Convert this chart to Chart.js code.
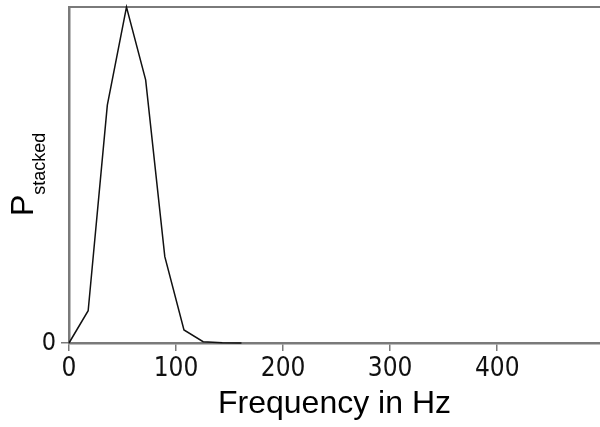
<!DOCTYPE html>
<html>
<head>
<meta charset="utf-8">
<script src="https://cdn.jsdelivr.net/npm/chart.js@4.4.1/dist/chart.umd.min.js"></script>
<style>
  html, body { margin: 0; padding: 0; background: #fff; overflow: hidden; }
  #wrap { width: 600px; height: 427px; }
</style>
</head>
<body>
<div id="wrap"><canvas id="chart"></canvas></div>
<script>
// frequency (Hz) and stacked power (peak = 1)
const frequencies = [0, 17.9, 35.8, 53.7, 71.6, 89.5, 107.4, 125.3, 143.2, 161.1];
const power = [0, 0.096, 0.708, 1.0, 0.783, 0.257, 0.039, 0.004, 0.001, 0];
const xTicks = [0, 100, 200, 300, 400];
const yTicks = [0];

const axisGrey = "#7a7a7a";
const narrow = "'Liberation Sans Narrow', 'DejaVu Sans Condensed', sans-serif";
const sans = "'Liberation Sans', Arial, sans-serif";

const frameAndLabelPlugin = {
  id: "frameAndLabelPlugin",
  beforeDatasetsDraw: (chart) => {
    const { ctx, chartArea } = chart;
    // top border of the plot frame
    ctx.save();
    ctx.beginPath();
    ctx.moveTo(chartArea.left - 1, chartArea.top);
    ctx.lineTo(chart.width, chartArea.top);
    ctx.lineWidth = 2;
    ctx.strokeStyle = axisGrey;
    ctx.stroke();
    ctx.restore();
  },
  afterDraw: (chart) => {
    const { ctx } = chart;
    // y title with subscript
    ctx.save();
    ctx.translate(33, 216);
    ctx.rotate(-Math.PI / 2);
    ctx.fillStyle = "#000";
    ctx.textAlign = "left";
    ctx.textBaseline = "alphabetic";
    ctx.font = `32px ${sans}`;
    ctx.fillText("P", 0, 0);
    const pWidth = ctx.measureText("P").width;
    ctx.font = `18px ${sans}`;
    ctx.fillText("stacked", pWidth, 12);
    ctx.restore();
  },
};

const data = {
  datasets: [
    {
      data: frequencies.map((f, i) => ({ x: f, y: power[i] })),
      borderColor: "#111",
      borderWidth: 1.5,
      pointRadius: 0,
      tension: 0,
      clip: false,
    },
  ],
};

const options = {
  responsive: true,
  maintainAspectRatio: false,
  animation: false,
  layout: { padding: { top: 7, right: 0, left: 0, bottom: 0 } },
  plugins: {
    legend: { display: false },
    tooltip: { enabled: false },
  },
  scales: {
    x: {
      type: "linear",
      min: 0,
      max: 496,
      afterBuildTicks: (scale) => {
        scale.ticks = xTicks.map((v) => ({ value: v }));
      },
      afterFit: (scale) => {
        scale.height = 84;
        scale.paddingRight = 0;
      },
      ticks: {
        font: { family: narrow, size: 26 },
        color: "#111",
        padding: 3,
        maxRotation: 0,
      },
      grid: {
        display: true,
        drawOnChartArea: false,
        drawTicks: true,
        tickLength: 8,
        color: axisGrey,
        lineWidth: 1.5,
      },
      border: { display: true, color: axisGrey, width: 2.5 },
      title: {
        display: true,
        text: "Frequency in Hz",
        color: "#000",
        font: { family: sans, size: 32 },
        padding: { top: 0, bottom: 4 },
      },
    },
    y: {
      type: "linear",
      min: 0,
      max: 1,
      afterBuildTicks: (scale) => {
        scale.ticks = yTicks.map((v) => ({ value: v }));
      },
      afterFit: (scale) => {
        scale.width = 69;
        scale.paddingTop = 0;
        scale.paddingBottom = 0;
      },
      ticks: {
        font: { family: narrow, size: 25 },
        color: "#111",
        padding: 5,
      },
      grid: {
        display: true,
        drawOnChartArea: false,
        drawTicks: true,
        tickLength: 8,
        color: axisGrey,
        lineWidth: 1.5,
      },
      border: { display: true, color: axisGrey, width: 2.5 },
    },
  },
};

new Chart(document.getElementById("chart"), {
  type: "line",
  data,
  options,
  plugins: [frameAndLabelPlugin],
});
</script>
</body>
</html>
